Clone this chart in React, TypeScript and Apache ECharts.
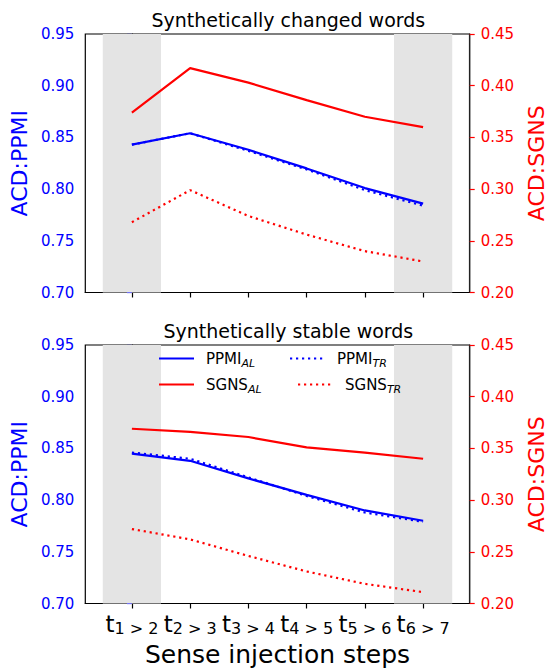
import React, { useEffect, useRef } from "react";
import * as echarts from "echarts";

const xPositions = [0, 1, 2, 3, 4, 5];
const xTickSubs = ["1 > 2", "2 > 3", "3 > 4", "4 > 5", "5 > 6", "6 > 7"];

// Top panel: Synthetically changed words
const topPPMI_AL = [0.843, 0.854, 0.838, 0.82, 0.801, 0.786];
const topPPMI_TR = [0.843, 0.854, 0.837, 0.819, 0.799, 0.784];
const topSGNS_AL = [0.374, 0.417, 0.403, 0.386, 0.37, 0.36];
const topSGNS_TR = [0.268, 0.299, 0.274, 0.256, 0.24, 0.23];

// Bottom panel: Synthetically stable words
const botPPMI_AL = [0.845, 0.838, 0.821, 0.805, 0.79, 0.78];
const botPPMI_TR = [0.846, 0.84, 0.822, 0.804, 0.788, 0.779];
const botSGNS_AL = [0.369, 0.366, 0.361, 0.351, 0.346, 0.34];
const botSGNS_TR = [0.272, 0.262, 0.246, 0.231, 0.219, 0.211];

const shadedSpans = [
  [-0.5, 0.5],
  [4.5, 5.5],
];

const FONT = "DejaVu Sans";
const BLUE = "#0000ff";
const RED = "#ff0000";

const pair = (ys: number[]) => ys.map((y, i) => [xPositions[i], y]);

export default function App() {
  const ref = useRef<HTMLDivElement>(null);
  useEffect(() => {
    if (!ref.current) return;
    const chart = echarts.init(ref.current, undefined, { renderer: "svg" });

    const gridTop = { left: 85.3, right: 73.7, top: 34, height: 258.5 };
    const gridBot = { left: 85.3, right: 73.7, top: 345, height: 258.5 };

    const mkX = (gi: number, showLabels: boolean) => ({
      type: "value",
      gridIndex: gi,
      min: -0.8,
      max: 5.8,
      splitLine: { show: false },
      axisLine: { show: true, lineStyle: { color: "#000", width: 1.2 } },
      axisTick: {
        show: true,
        customValues: xPositions,
        length: 5,
        lineStyle: { color: "#000", width: 1.2 },
      },
      axisLabel: {
        show: showLabels,
        customValues: xPositions,
        margin: 7,
        formatter: (v: number) => {
          const i = Math.round(v);
          return `{t|t}{s|${xTickSubs[i]}}`;
        },
        rich: {
          t: { fontSize: 23, fontFamily: FONT, color: "#000", lineHeight: 26, verticalAlign: "middle" },
          s: { fontSize: 16, fontFamily: FONT, color: "#000", lineHeight: 17, verticalAlign: "bottom" },
        },
      },
      name: showLabels ? "Sense injection steps" : "",
      nameLocation: "middle",
      nameGap: 38,
      nameTextStyle: { fontSize: 25, fontFamily: FONT, color: "#000" },
    });

    const mkYLeft = (gi: number) => ({
      type: "value",
      gridIndex: gi,
      position: "left",
      min: 0.7,
      max: 0.95,
      interval: 0.05,
      splitLine: { show: false },
      axisLine: { show: true, lineStyle: { color: "#000", width: 1.2 } },
      axisTick: { show: true, length: 5, lineStyle: { color: BLUE, width: 1.2 } },
      axisLabel: {
        margin: 11,
        color: BLUE,
        fontSize: 15,
        fontFamily: FONT,
        formatter: (v: number) => v.toFixed(2),
      },
      name: "ACD:PPMI",
      nameLocation: "middle",
      nameGap: 53,
      nameRotate: 90,
      nameTextStyle: { color: BLUE, fontSize: 22, fontFamily: FONT },
    });

    const mkYRight = (gi: number) => ({
      type: "value",
      gridIndex: gi,
      position: "right",
      min: 0.2,
      max: 0.45,
      interval: 0.05,
      splitLine: { show: false },
      axisLine: { show: true, lineStyle: { color: "#222", width: 1.2 } },
      axisTick: { show: true, length: 5, lineStyle: { color: RED, width: 1.2 } },
      axisLabel: {
        margin: 11,
        color: RED,
        fontSize: 15,
        fontFamily: FONT,
        formatter: (v: number) => v.toFixed(2),
      },
      name: "ACD:SGNS",
      nameLocation: "middle",
      nameGap: 50,
      nameRotate: 90,
      nameTextStyle: { color: RED, fontSize: 22, fontFamily: FONT },
    });

    const mkLine = (
      name: string,
      xi: number,
      yi: number,
      ys: number[],
      color: string,
      dotted: boolean
    ) => ({
      type: "line",
      name,
      xAxisIndex: xi,
      yAxisIndex: yi,
      data: pair(ys),
      symbol: "none",
      smooth: false,
      z: 3,
      lineStyle: {
        color,
        width: 2.2,
        type: dotted ? [2.2, 3.8] : "solid",
        cap: "butt",
      },
      itemStyle: { color },
    });

    const mkShade = (xi: number, yi: number) => ({
      type: "line",
      name: "shade" + xi,
      xAxisIndex: xi,
      yAxisIndex: yi,
      data: [],
      silent: true,
      z: 1,
      markArea: {
        silent: true,
        itemStyle: { color: "#e4e4e4" },
        data: shadedSpans.map(([a, b]) => [{ xAxis: a }, { xAxis: b }]),
      },
    });

    const legendBase = {
      padding: 0,
      itemWidth: 35,
      itemHeight: 14,
      selectedMode: false,
      itemStyle: { color: "transparent", borderWidth: 0, opacity: 0 },
      formatter: (name: string) => {
        const [a, b] = name.split("_");
        return `{a|${a}}{b|${b}}`;
      },
      textStyle: {
        rich: {
          a: { fontSize: 15, fontFamily: FONT, color: "#000", lineHeight: 20, verticalAlign: "middle", padding: [0, 0, 0, 7] },
          b: { fontSize: 11, fontFamily: FONT, fontStyle: "italic", color: "#000", lineHeight: 13, verticalAlign: "bottom" },
        },
      },
    };

    chart.setOption({
      animation: false,
      backgroundColor: "#fff",
      title: [
        {
          text: "Synthetically changed words",
          left: 283.3,
          textAlign: "center",
          top: 5,
          textStyle: { fontSize: 19, fontWeight: "normal", fontFamily: FONT, color: "#000" },
        },
        {
          text: "Synthetically stable words",
          left: 283.3,
          textAlign: "center",
          top: 316,
          textStyle: { fontSize: 19, fontWeight: "normal", fontFamily: FONT, color: "#000" },
        },
      ],
      grid: [
        { ...gridTop, show: true, borderColor: "#000", borderWidth: 1.2, backgroundColor: "transparent" },
        { ...gridBot, show: true, borderColor: "#000", borderWidth: 1.2, backgroundColor: "transparent" },
      ],
      xAxis: [mkX(0, false), mkX(1, true)],
      yAxis: [mkYLeft(0), mkYRight(0), mkYLeft(1), mkYRight(1)],
      legend: [
        { ...legendBase, data: ["PPMI_AL"], left: 158, top: 351 },
        { ...legendBase, data: ["SGNS_AL"], left: 158, top: 377 },
        { ...legendBase, data: ["PPMI_TR"], left: 289, top: 351 },
        { ...legendBase, data: ["SGNS_TR"], left: 297, top: 377 },
      ],
      series: [
        mkShade(0, 0),
        mkShade(1, 2),
        mkLine("PPMI_AL", 0, 0, topPPMI_AL, BLUE, false),
        mkLine("PPMI_TR", 0, 0, topPPMI_TR, BLUE, true),
        mkLine("SGNS_AL", 0, 1, topSGNS_AL, RED, false),
        mkLine("SGNS_TR", 0, 1, topSGNS_TR, RED, true),
        mkLine("PPMI_AL", 1, 2, botPPMI_AL, BLUE, false),
        mkLine("PPMI_TR", 1, 2, botPPMI_TR, BLUE, true),
        mkLine("SGNS_AL", 1, 3, botSGNS_AL, RED, false),
        mkLine("SGNS_TR", 1, 3, botSGNS_TR, RED, true),
      ],
    });

    return () => chart.dispose();
  }, []);

  return (
    <div
      ref={ref}
      style={{ position: "absolute", left: 0, top: 0, width: 555, height: 668, background: "#fff" }}
    />
  );
}
